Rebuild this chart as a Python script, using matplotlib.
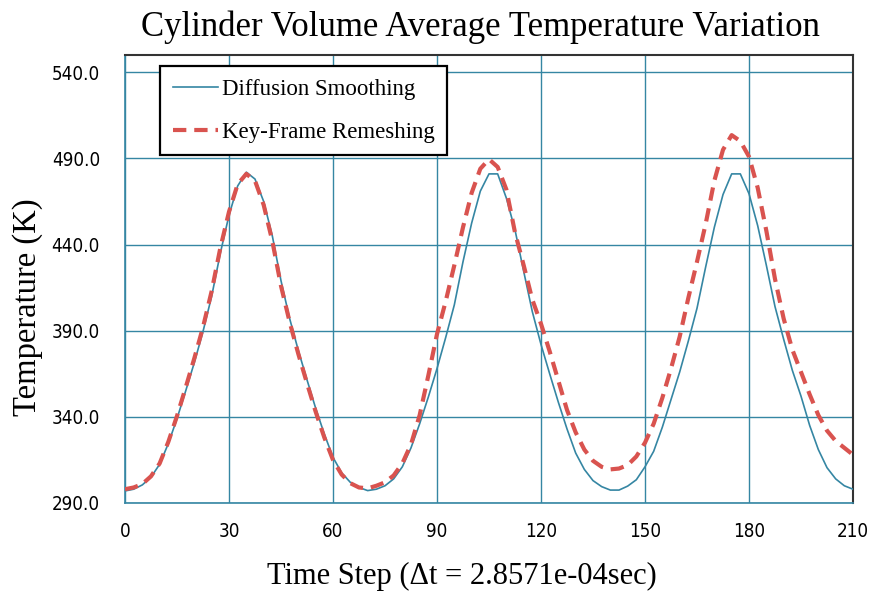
import matplotlib
matplotlib.use("Agg")
import matplotlib.pyplot as plt
from matplotlib.ticker import FixedLocator

# ---- data ----
time_step = [i * 2.5 for i in range(85)]

diffusion = [
    297, 298, 300.5, 305, 312.5, 324.5, 339, 355, 371.5, 389.5, 410, 435, 457, 474, 482,
    478, 465, 445, 419, 397, 378.5, 361.5, 345, 330, 316.5, 307.5, 302, 299, 297.2,
    298, 300, 304, 311, 322, 336, 351.5, 368, 386, 405, 430, 452.5, 471, 481,
    481, 467, 448.5, 424.5, 401, 382, 365, 348.5, 333, 319, 309.5, 303, 299.5, 297.5,
    297.5, 299.8, 303.5, 311, 320, 334, 350, 366, 384, 403, 427, 450, 469, 481,
    481, 469.5, 451, 428, 404, 385, 367, 352, 335, 321, 310.5, 304, 300, 298,
]

keyframe = [
    298, 299, 301, 305.5, 313, 325.5, 340.5, 357, 374, 392, 413, 438, 459, 475, 481,
    477, 463, 442, 416, 395, 376.5, 359.5, 343, 328, 315, 306.5, 301.5, 299, 298.5,
    300, 302, 306, 313, 324, 341, 364, 388, 407, 428, 450, 470, 484, 489.5,
    485, 472, 447, 428, 408, 394, 378, 361, 344, 331, 321, 314.5, 311, 309.5,
    310, 312, 317, 325, 336, 351, 368, 386.5, 409, 430, 452, 477, 495, 503.5,
    500, 491, 473, 448, 420, 397, 379, 366, 353, 341, 332, 326, 322, 318,
]

x_ticks = [0, 30, 60, 90, 120, 150, 180, 210]
y_ticks = [290, 340, 390, 440, 490, 540]
y_tick_labels = ["290.0", "340.0", "390.0", "440.0", "490.0", "540.0"]

series_names = ["Diffusion Smoothing", "Key-Frame Remeshing"]
title = "Cylinder Volume Average Temperature Variation"
x_label = "Time Step (\u0394t = 2.8571e-04sec)"
y_label = "Temperature (K)"

# ---- style ----
teal = "#3586a3"
red = "#d9534f"
serif = ["Liberation Serif", "DejaVu Serif"]
tickfont = {"family": ["DejaVu Sans"], "stretch": "condensed", "size": 13.5}

fig = plt.figure(figsize=(8.75, 5.91), dpi=100)
ax = fig.add_axes([125 / 875, 1 - 503 / 591, (853 - 125) / 875, (503 - 55) / 591])

ax.plot(time_step, diffusion, color=teal, lw=1.2, label=series_names[0], zorder=3)
ax.plot(time_step, keyframe, color=red, lw=3.0, ls=(0, (3.2, 1.9)),
        label=series_names[1], zorder=4)

ax.set_xlim(0, 210)
ax.set_ylim(290, 550)
ax.xaxis.set_major_locator(FixedLocator(x_ticks))
ax.yaxis.set_major_locator(FixedLocator(y_ticks))
ax.set_xticklabels([str(v) for v in x_ticks], **tickfont)
ax.set_yticklabels(y_tick_labels, **tickfont)
ax.tick_params(length=0, pad=18)
ax.tick_params(axis="x", pad=14)

ax.grid(True, color=teal, lw=1.0, zorder=1)
ax.set_axisbelow(True)
for side in ["left", "bottom"]:
    ax.spines[side].set_color(teal)
    ax.spines[side].set_linewidth(1.2)
for side in ["top", "right"]:
    ax.spines[side].set_color("#333333")
    ax.spines[side].set_linewidth(1.5)

fig.text(480 / 875, 1 - 27 / 591, title, ha="center", va="center", family=serif, fontsize=25)
fig.text(462 / 875, 1 - 576 / 591, x_label, ha="center", va="center", family=serif, fontsize=22)
fig.text(28 / 875, 1 - 307 / 591, y_label, ha="center", va="center", rotation=90,
         family=serif, fontsize=23.5)

leg = ax.legend(loc="upper left", bbox_to_anchor=(0.048, 0.975), prop={"family": serif, "size": 16.5},
                frameon=True, fancybox=False, handlelength=2.0, handletextpad=0.15,
                labelspacing=0.95, borderpad=0.55, borderaxespad=0)
leg.get_frame().set_edgecolor("black")
leg.get_frame().set_linewidth(1.6)
leg.get_frame().set_alpha(1)

fig.savefig("out.png", dpi=100)
